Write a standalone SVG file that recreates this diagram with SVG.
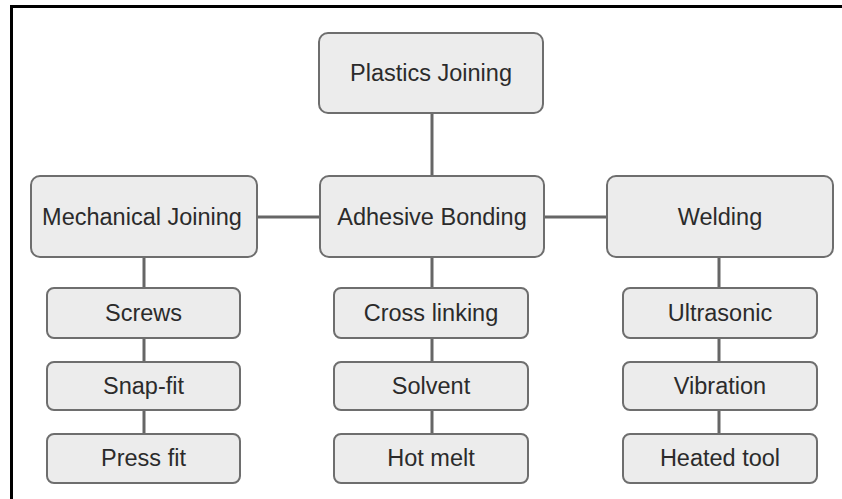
<svg xmlns="http://www.w3.org/2000/svg" width="842" height="499" viewBox="0 0 842 499">
<style>
.n{fill:#ececec;stroke:#6e6e6e;stroke-width:2}
.t{font-family:"Liberation Sans",Arial,sans-serif;font-size:23.5px;fill:#2b2b2b;text-anchor:middle}
.c{stroke:#666;stroke-width:3;fill:none}
</style>
<rect width="842" height="499" fill="#fff"/>
<path d="M11.5 499 V6.5 H842" stroke="#000" stroke-width="3" fill="none"/>
<g id="connectors" class="c">
<path d="M432 113 V176"/>
<path d="M257 217 H320"/>
<path d="M544 217 H607"/>
<path d="M144 257 V288 M144 338 V362 M144 410 V434"/>
<path d="M432 257 V288 M432 338 V362 M432 410 V434"/>
<path d="M719 257 V288 M719 338 V362 M719 410 V434"/>
</g>
<g id="plastics"><rect class="n" x="319" y="33" width="224" height="80" rx="9"/><text class="t" x="431" y="81">Plastics Joining</text></g>
<g id="mechanical"><rect class="n" x="31" y="176" width="226" height="81" rx="9"/><text class="t" x="142" y="225">Mechanical Joining</text></g>
<g id="adhesive"><rect class="n" x="320" y="176" width="224" height="81" rx="9"/><text class="t" x="432" y="225">Adhesive Bonding</text></g>
<g id="welding"><rect class="n" x="607" y="176" width="226" height="81" rx="9"/><text class="t" x="720" y="225">Welding</text></g>
<g id="screws"><rect class="n" x="47" y="288" width="193" height="50" rx="7"/><text class="t" x="143.5" y="321">Screws</text></g>
<g id="snapfit"><rect class="n" x="47" y="362" width="193" height="48" rx="7"/><text class="t" x="143.5" y="394">Snap-fit</text></g>
<g id="pressfit"><rect class="n" x="47" y="434" width="193" height="49" rx="7"/><text class="t" x="143.5" y="466">Press fit</text></g>
<g id="crosslinking"><rect class="n" x="334" y="288" width="194" height="50" rx="7"/><text class="t" x="431" y="321">Cross linking</text></g>
<g id="solvent"><rect class="n" x="334" y="362" width="194" height="48" rx="7"/><text class="t" x="431" y="394">Solvent</text></g>
<g id="hotmelt"><rect class="n" x="334" y="434" width="194" height="49" rx="7"/><text class="t" x="431" y="466">Hot melt</text></g>
<g id="ultrasonic"><rect class="n" x="623" y="288" width="194" height="50" rx="7"/><text class="t" x="720" y="321">Ultrasonic</text></g>
<g id="vibration"><rect class="n" x="623" y="362" width="194" height="48" rx="7"/><text class="t" x="720" y="394">Vibration</text></g>
<g id="heatedtool"><rect class="n" x="623" y="434" width="194" height="49" rx="7"/><text class="t" x="720" y="466">Heated tool</text></g>
</svg>
